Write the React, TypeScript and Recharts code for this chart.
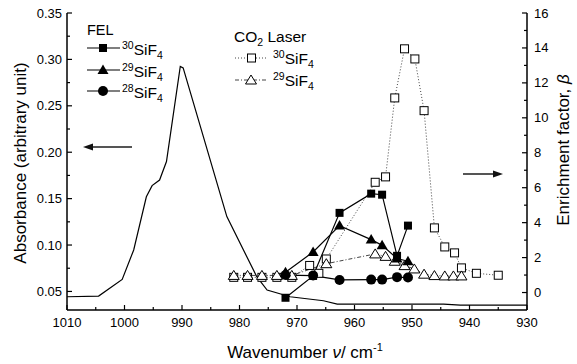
import { ComposedChart, Line, XAxis, YAxis } from 'recharts'

// FEL absorbance spectrum (left axis)
const absWave = [1010, 1004.5, 1000.4, 998.4, 996.2, 995.2, 993.9, 992.7, 990.3, 989.8, 982.2, 977.0, 975.2, 971.2, 965.4, 963.0, 944.5, 941.6, 930]
const absValue = [0.0443, 0.045, 0.063, 0.0947, 0.152, 0.164, 0.17, 0.19, 0.2925, 0.2908, 0.1306, 0.0659, 0.0515, 0.0443, 0.04, 0.0364, 0.0364, 0.0353, 0.0353]

// FEL enrichment factors (right axis)
const felWave = [972, 967.2, 962.6, 957.1, 955.2, 952.6, 950.7]
const fel30 = [-0.3, 0.95, 4.56, 5.66, 5.6, 2.1, 3.83]
const fel29 = [1.16, 2.32, 3.83, 3.03, 2.7, 1.95, 1.79]
const fel28 = [1.0, 0.97, 0.72, 0.74, 0.74, 0.88, 0.86]

// CO2 laser enrichment factors (right axis)
const co2Wave30 = [981, 978.6, 976.1, 973.5, 970.9, 967.8, 966.2, 964.9, 956.4, 954.6, 953.0, 951.3, 949.5, 947.9, 946.1, 944.3, 942.6, 941.4, 938.8, 935.0]
const co2Beta30 = [0.87, 0.87, 0.87, 0.87, 0.87, 1.55, 1.1, 1.92, 6.31, 6.62, 11.14, 13.95, 13.37, 10.41, 3.7, 2.61, 2.27, 1.41, 1.1, 0.99]
const co2Wave29 = [981, 978.6, 976.1, 973.5, 970.9, 964.9, 956.4, 954.6, 953.0, 951.3, 949.6, 947.9, 946.1, 944.3, 942.8, 941.4]
const co2Beta29 = [0.98, 0.98, 0.98, 0.98, 0.98, 1.65, 2.21, 2.07, 1.79, 1.54, 1.35, 1.05, 0.97, 0.95, 0.95, 0.95]

const xTicks = [1010, 1005, 1000, 995, 990, 985, 980, 975, 970, 965, 960, 955, 950, 945, 940, 935, 930]
const leftTicks = [0.05, 0.075, 0.1, 0.125, 0.15, 0.175, 0.2, 0.225, 0.25, 0.275, 0.3, 0.325, 0.35]
const rightTicks = [0, 1, 2, 3, 4, 5, 6, 7, 8, 9, 10, 11, 12, 13, 14, 15, 16]

const zip = (xs: number[], ys: number[]) => xs.map((x, i) => ({ x, y: ys[i] }))

const FONT = '"Liberation Sans", Arial, sans-serif'

const BottomTick = ({ x, y, payload }: any) => {
  const major = payload.value % 10 === 0
  return (
    <g>
      <line x1={x} x2={x} y1={y} y2={y - (major ? 5 : 3)} stroke="#000" strokeWidth={1.2} />
      {major && (
        <text x={x} y={y + 17} textAnchor="middle" fontSize={13} fontFamily={FONT} fill="#000">
          {payload.value}
        </text>
      )}
    </g>
  )
}

const TopTick = ({ x, y, payload }: any) => {
  const major = payload.value % 10 === 0
  return <line x1={x} x2={x} y1={y} y2={y + (major ? 5 : 3)} stroke="#000" strokeWidth={1.2} />
}

const LeftTick = ({ x, y, payload }: any) => {
  const major = Math.abs(Math.round(payload.value * 20) - payload.value * 20) < 1e-6
  return (
    <g>
      <line x1={x} x2={x + (major ? 5 : 3)} y1={y} y2={y} stroke="#000" strokeWidth={1.2} />
      {major && (
        <text x={x - 5} y={y + 4.5} textAnchor="end" fontSize={13} fontFamily={FONT} fill="#000">
          {payload.value.toFixed(2)}
        </text>
      )}
    </g>
  )
}

const RightTick = ({ x, y, payload }: any) => {
  const major = payload.value % 2 === 0
  return (
    <g>
      <line x1={x} x2={x - (major ? 5 : 3)} y1={y} y2={y} stroke="#000" strokeWidth={1.2} />
      {major && (
        <text x={x + 7} y={y + 4.5} textAnchor="start" fontSize={13} fontFamily={FONT} fill="#000">
          {payload.value}
        </text>
      )}
    </g>
  )
}

const filledSquare = (p: any) => (
  <rect key={`fs-${p.index}`} x={p.cx - 4} y={p.cy - 4} width={8} height={8} fill="#000" />
)
const filledTriangle = (p: any) => (
  <polygon key={`ft-${p.index}`} points={`${p.cx},${p.cy - 5.5} ${p.cx - 5.5},${p.cy + 4} ${p.cx + 5.5},${p.cy + 4}`} fill="#000" />
)
const filledCircle = (p: any) => <circle key={`fc-${p.index}`} cx={p.cx} cy={p.cy} r={5} fill="#000" />
const openSquare = (p: any) => (
  <rect key={`os-${p.index}`} x={p.cx - 4} y={p.cy - 4} width={8} height={8} fill="#fff" stroke="#000" strokeWidth={1} />
)
const openTriangle = (p: any) => (
  <polygon
    key={`ot-${p.index}`}
    points={`${p.cx},${p.cy - 5} ${p.cx - 5.5},${p.cy + 4} ${p.cx + 5.5},${p.cy + 4}`}
    fill="#fff"
    stroke="#000"
    strokeWidth={1}
  />
)

const Species = ({ x, y, mass }: { x: number; y: number; mass: string }) => (
  <text x={x} y={y} fontFamily={FONT} fill="#000" fontSize={15.5}>
    <tspan fontSize={10.5} dy={-6}>{mass}</tspan>
    <tspan dy={6}>SiF</tspan>
    <tspan fontSize={10.5} dy={4}>4</tspan>
  </text>
)

export default function App() {
  return (
    <div style={{ position: 'absolute', left: 0, top: 0, width: 577, height: 364, background: '#fff' }}>
      <ComposedChart width={577} height={364} margin={{ top: 13, right: 0, bottom: 0, left: 0 }}>
        <XAxis
          type="number"
          dataKey="x"
          domain={[930, 1010]}
          reversed
          allowDataOverflow
          ticks={xTicks}
          interval={0}
          height={54}
          tickSize={0}
          tickMargin={0}
          tickLine={false}
          tick={<BottomTick />}
          axisLine={{ stroke: '#000', strokeWidth: 1.5 }}
        />
        <XAxis
          xAxisId="top"
          orientation="top"
          type="number"
          dataKey="x"
          domain={[930, 1010]}
          reversed
          allowDataOverflow
          ticks={xTicks}
          interval={0}
          height={0}
          tickSize={0}
          tickMargin={0}
          tickLine={false}
          tick={<TopTick />}
          axisLine={{ stroke: '#000', strokeWidth: 1.5 }}
        />
        <YAxis
          yAxisId="left"
          type="number"
          domain={[0.03, 0.35]}
          allowDataOverflow
          ticks={leftTicks}
          interval={0}
          width={67}
          tickSize={0}
          tickMargin={0}
          tickLine={false}
          tick={<LeftTick />}
          axisLine={{ stroke: '#000', strokeWidth: 1.5 }}
        />
        <YAxis
          yAxisId="right"
          orientation="right"
          type="number"
          domain={[-1, 16]}
          allowDataOverflow
          ticks={rightTicks}
          interval={0}
          width={50}
          tickSize={0}
          tickMargin={0}
          tickLine={false}
          tick={<RightTick />}
          axisLine={{ stroke: '#000', strokeWidth: 1.5 }}
        />
        <Line
          yAxisId="left"
          data={zip(absWave, absValue)}
          dataKey="y"
          type="linear"
          stroke="#000"
          strokeWidth={1.2}
          dot={false}
          activeDot={false}
          isAnimationActive={false}
        />
        <Line
          yAxisId="right"
          data={zip(co2Wave30, co2Beta30)}
          dataKey="y"
          type="linear"
          stroke="#444"
          strokeWidth={1}
          strokeDasharray="1 2"
          dot={openSquare}
          activeDot={false}
          isAnimationActive={false}
        />
        <Line
          yAxisId="right"
          data={zip(co2Wave29, co2Beta29)}
          dataKey="y"
          type="linear"
          stroke="#444"
          strokeWidth={1}
          strokeDasharray="4 2 1 2"
          dot={openTriangle}
          activeDot={false}
          isAnimationActive={false}
        />
        <Line
          yAxisId="right"
          data={zip(felWave, fel30)}
          dataKey="y"
          type="linear"
          stroke="#000"
          strokeWidth={1.2}
          dot={filledSquare}
          activeDot={false}
          isAnimationActive={false}
        />
        <Line
          yAxisId="right"
          data={zip(felWave, fel29)}
          dataKey="y"
          type="linear"
          stroke="#000"
          strokeWidth={1.2}
          dot={filledTriangle}
          activeDot={false}
          isAnimationActive={false}
        />
        <Line
          yAxisId="right"
          data={zip(felWave, fel28)}
          dataKey="y"
          type="linear"
          stroke="#000"
          strokeWidth={1.2}
          dot={filledCircle}
          activeDot={false}
          isAnimationActive={false}
        />
      </ComposedChart>
      <svg width={577} height={364} style={{ position: 'absolute', left: 0, top: 0, pointerEvents: 'none' }}>
        {/* FEL legend */}
        <text x={87} y={35} fontSize={14.5} fontFamily={FONT} fill="#000">FEL</text>
        <line x1={87} x2={120} y1={48} y2={48} stroke="#000" strokeWidth={1.2} />
        <rect x={99} y={44} width={8} height={8} fill="#000" />
        <Species x={122} y={55} mass="30" />
        <line x1={87} x2={120} y1={70} y2={70} stroke="#000" strokeWidth={1.2} />
        <polygon points="103,64.5 97.5,74 108.5,74" fill="#000" />
        <Species x={122} y={77} mass="29" />
        <line x1={87} x2={120} y1={91} y2={91} stroke="#000" strokeWidth={1.2} />
        <circle cx={103} cy={91} r={5} fill="#000" />
        <Species x={122} y={98} mass="28" />

        {/* CO2 laser legend */}
        <text x={234} y={42} fontSize={15.5} fontFamily={FONT} fill="#000">
          CO<tspan fontSize={10.5} dy={4}>2</tspan>
          <tspan dy={-4}> Laser</tspan>
        </text>
        <line x1={235} x2={267} y1={58} y2={58} stroke="#444" strokeWidth={1} strokeDasharray="1 2" />
        <rect x={247.5} y={54} width={8} height={8} fill="#fff" stroke="#000" />
        <Species x={273} y={64} mass="30" />
        <line x1={235} x2={267} y1={80} y2={80} stroke="#444" strokeWidth={1} strokeDasharray="4 2 1 2" />
        <polygon points="251,75 245.5,84 256.5,84" fill="#fff" stroke="#000" />
        <Species x={273} y={86} mass="29" />

        {/* arrows */}
        <line x1={90} x2={132} y1={147} y2={147} stroke="#555" strokeWidth={2} />
        <polygon points="83,147 93,143.5 93,150.5" fill="#111" />
        <line x1={463} x2={495} y1={174} y2={174} stroke="#555" strokeWidth={2} />
        <polygon points="503,174 493,170.5 493,177.5" fill="#111" />

        {/* axis titles */}
        <text
          transform="translate(20,163) rotate(-90)"
          textAnchor="middle"
          dy="0.35em"
          fontSize={17}
          fontFamily={FONT}
          fill="#000"
        >
          Absorbance (arbitrary unit)
        </text>
        <text
          transform="translate(563,150) rotate(-90)"
          textAnchor="middle"
          dy="0.35em"
          fontSize={17}
          fontFamily={FONT}
          fill="#000"
        >
          Enrichment factor, <tspan fontStyle="italic">β</tspan>
        </text>
        <text x={305} y={358} textAnchor="middle" fontSize={17} fontFamily={FONT} fill="#000">
          Wavenumber <tspan fontStyle="italic">ν</tspan>/ cm<tspan fontSize={11} dy={-7}>-1</tspan>
        </text>
      </svg>
    </div>
  )
}
